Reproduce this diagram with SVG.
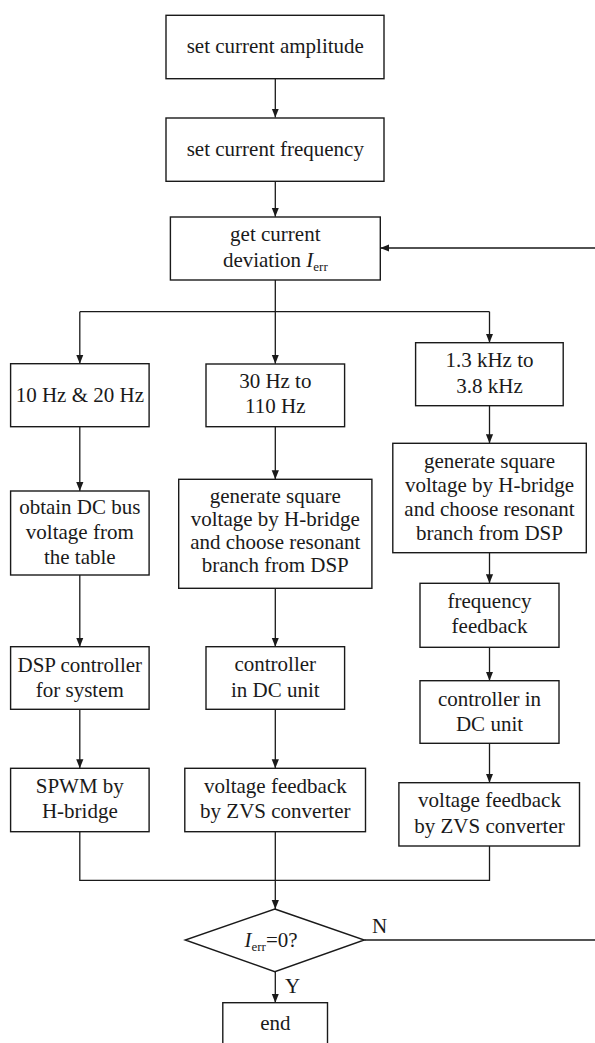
<svg xmlns="http://www.w3.org/2000/svg" width="595" height="1043" viewBox="0 0 595 1043">
<defs>
<marker id="arr" viewBox="0 0 10 8" refX="10" refY="4" markerWidth="9" markerHeight="8" markerUnits="userSpaceOnUse" orient="auto">
<path d="M0,0 L10,4 L0,8 z" fill="#1a1a1a"/>
</marker>
<style>
rect, polygon { fill: #ffffff; stroke: #1a1a1a; stroke-width: 1.4; }
.c path, .c line { fill: none; stroke: #1a1a1a; stroke-width: 1.3; }
text { font-family: "Liberation Serif", "Times New Roman", serif; font-size: 21px; fill: #1a1a1a; text-anchor: middle; }
.sub { font-size: 13px; }
.it { font-style: italic; }
</style>
</defs>
<rect x="0" y="0" width="595" height="1043" style="fill:#ffffff;stroke:none"/>

<g class="c" id="connectors">
<line x1="275.3" y1="78.7" x2="275.3" y2="117.5" marker-end="url(#arr)"/>
<line x1="275.3" y1="181.3" x2="275.3" y2="216.7" marker-end="url(#arr)"/>
<path d="M596,940 L596,248 L380.3,248" marker-end="url(#arr)"/>
<line x1="275.3" y1="280" x2="275.3" y2="311.7"/>
<path d="M79.8,311.7 L489.5,311.7"/>
<line x1="79.8" y1="311.7" x2="79.8" y2="363.7" marker-end="url(#arr)"/>
<line x1="275.3" y1="311.7" x2="275.3" y2="363.7" marker-end="url(#arr)"/>
<line x1="489.5" y1="311.7" x2="489.5" y2="342.7" marker-end="url(#arr)"/>
<line x1="79.8" y1="426.7" x2="79.8" y2="491" marker-end="url(#arr)"/>
<line x1="275.3" y1="426.7" x2="275.3" y2="479.3" marker-end="url(#arr)"/>
<line x1="489.5" y1="405.7" x2="489.5" y2="443.3" marker-end="url(#arr)"/>
<line x1="79.8" y1="575" x2="79.8" y2="646.7" marker-end="url(#arr)"/>
<line x1="275.3" y1="588.3" x2="275.3" y2="646.7" marker-end="url(#arr)"/>
<line x1="489.5" y1="552.7" x2="489.5" y2="583.3" marker-end="url(#arr)"/>
<line x1="79.8" y1="709.3" x2="79.8" y2="768.3" marker-end="url(#arr)"/>
<line x1="275.3" y1="709.3" x2="275.3" y2="768.3" marker-end="url(#arr)"/>
<line x1="489.5" y1="647.3" x2="489.5" y2="680.7" marker-end="url(#arr)"/>
<line x1="489.5" y1="743.3" x2="489.5" y2="782.7" marker-end="url(#arr)"/>
<path d="M79.8,831.7 L79.8,880.3 L489.5,880.3 L489.5,846"/>
<line x1="275.3" y1="831.7" x2="275.3" y2="909" marker-end="url(#arr)"/>
<line x1="364.3" y1="940" x2="596" y2="940"/>
<line x1="275.3" y1="971.7" x2="275.3" y2="1002.7" marker-end="url(#arr)"/>
<text x="379.5" y="933.3">N</text>
<text x="292.5" y="992.7">Y</text>
</g>

<g id="n_amplitude">
<rect x="166" y="15.3" width="218" height="63.4"/>
<text x="275.3" y="53.3">set current amplitude</text>
</g>
<g id="n_frequency">
<rect x="166" y="118" width="218" height="63.3"/>
<text x="275.3" y="156">set current frequency</text>
</g>
<g id="n_deviation">
<rect x="170.4" y="217" width="209.9" height="63"/>
<text x="275.3" y="241">get current</text>
<text x="275.3" y="266.5">deviation <tspan class="it">I</tspan><tspan class="sub" dy="4">err</tspan></text>
</g>

<g id="n_low">
<rect x="10.6" y="363.7" width="138.5" height="63"/>
<text x="79.8" y="401.7">10 Hz &amp; 20 Hz</text>
</g>
<g id="n_mid">
<rect x="206" y="364" width="138.6" height="62.7"/>
<text x="275.3" y="388.3">30 Hz to</text>
<text x="275.3" y="413.3">110 Hz</text>
</g>
<g id="n_high">
<rect x="415.6" y="342.7" width="147.6" height="63"/>
<text x="489.5" y="367.3">1.3 kHz to</text>
<text x="489.5" y="393.3">3.8 kHz</text>
</g>

<g id="n_table">
<rect x="10.6" y="491" width="138.5" height="84"/>
<text x="79.8" y="514.3">obtain DC bus</text>
<text x="79.8" y="539.3">voltage from</text>
<text x="79.8" y="564.3">the table</text>
</g>
<g id="n_square_mid">
<rect x="178.7" y="479.3" width="193.2" height="109"/>
<text x="275.3" y="503">generate square</text>
<text x="275.3" y="526">voltage by H-bridge</text>
<text x="275.3" y="549">and choose resonant</text>
<text x="275.3" y="572">branch from DSP</text>
</g>
<g id="n_square_high">
<rect x="392.8" y="443.3" width="193.5" height="109.4"/>
<text x="489.5" y="468.3">generate square</text>
<text x="489.5" y="492">voltage by H-bridge</text>
<text x="489.5" y="516">and choose resonant</text>
<text x="489.5" y="540">branch from DSP</text>
</g>

<g id="n_freqfb">
<rect x="420" y="583.3" width="139" height="64"/>
<text x="489.5" y="608.3">frequency</text>
<text x="489.5" y="633.3">feedback</text>
</g>
<g id="n_dsp">
<rect x="10.6" y="646.7" width="138.5" height="62.6"/>
<text x="79.8" y="671.7">DSP controller</text>
<text x="79.8" y="696.7">for system</text>
</g>
<g id="n_dc_mid">
<rect x="206" y="646.7" width="138.6" height="62.6"/>
<text x="275.3" y="671.3">controller</text>
<text x="275.3" y="696.7">in DC unit</text>
</g>
<g id="n_dc_high">
<rect x="420" y="680.7" width="139" height="62.6"/>
<text x="489.5" y="705.7">controller in</text>
<text x="489.5" y="730.5">DC unit</text>
</g>

<g id="n_spwm">
<rect x="10.6" y="768.3" width="138.5" height="63.4"/>
<text x="79.8" y="793.3">SPWM by</text>
<text x="79.8" y="818.3">H-bridge</text>
</g>
<g id="n_zvs_mid">
<rect x="184.8" y="768.3" width="180.7" height="63.4"/>
<text x="275.3" y="792.5">voltage feedback</text>
<text x="275.3" y="818.3">by ZVS converter</text>
</g>
<g id="n_zvs_high">
<rect x="398.9" y="782.7" width="180.6" height="63.3"/>
<text x="489.5" y="807.3">voltage feedback</text>
<text x="489.5" y="833.3">by ZVS converter</text>
</g>

<g id="n_decision">
<polygon points="274.8,909 364.3,940 274.8,971.7 185.2,940"/>
<text x="271" y="946.7"><tspan class="it">I</tspan><tspan class="sub" dy="4">err</tspan><tspan dy="-4">=0?</tspan></text>
</g>
<g id="n_end">
<rect x="222.8" y="1002.7" width="104.7" height="50"/>
<text x="275.3" y="1030">end</text>
</g>
</svg>
